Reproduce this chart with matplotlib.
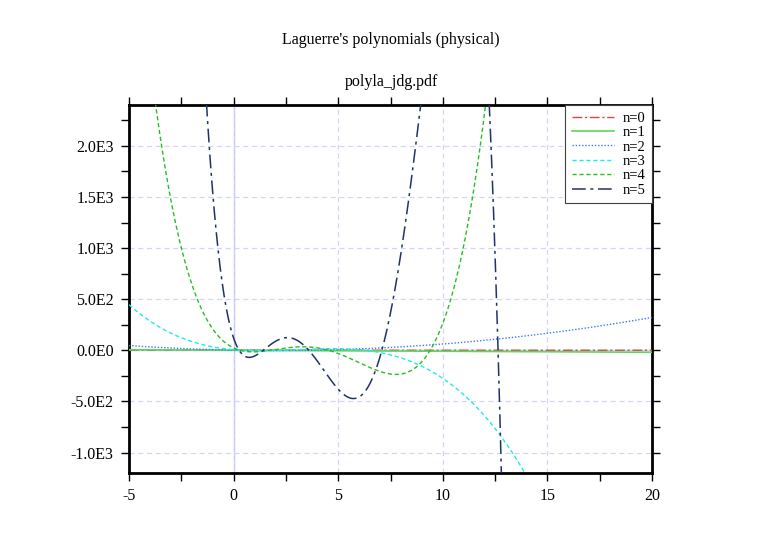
import numpy as np
import matplotlib
matplotlib.use("Agg")
import matplotlib.pyplot as plt
from matplotlib.ticker import FixedLocator, MultipleLocator, FixedFormatter

# ---- data: physicists' Laguerre polynomials n! * L_n(x), coefficients (highest power first)
series_labels = ["n=0", "n=1", "n=2", "n=3", "n=4", "n=5"]
coef_n0 = [1]
coef_n1 = [-1, 1]
coef_n2 = [1, -4, 2]
coef_n3 = [-1, 9, -18, 6]
coef_n4 = [1, -16, 72, -96, 24]
coef_n5 = [-1, 25, -200, 600, -600, 120]
x_range = [-5, 20]
y_range = [-1200, 2400]
x_ticks = [-5, 0, 5, 10, 15, 20]
x_tick_labels = ["-5", "0", "5", "10", "15", "20"]
y_ticks = [-1000, -500, 0, 500, 1000, 1500, 2000]
y_tick_labels = ["-1.0E3", "-5.0E2", "0.0E0", "5.0E2", "1.0E3", "1.5E3", "2.0E3"]
title = "Laguerre's polynomials (physical)"
subtitle = "polyla_jdg.pdf"

coefs = [coef_n0, coef_n1, coef_n2, coef_n3, coef_n4, coef_n5]
colors = ["#d84848", "#5cd85c", "#3c7cf0", "#20eaea", "#22c022", "#1e3468"]
styles = [(0, (7, 2, 1.5, 2)), "-", (0, (1, 1.3)), (0, (3, 2)), (0, (3, 2)), (0, (9, 3, 2, 3))]
widths = [1.0, 1.2, 1.0, 1.0, 1.0, 1.1]

plt.rcParams["font.family"] = ["Liberation Serif", "DejaVu Serif"]

fig = plt.figure(figsize=(7.82, 5.53), dpi=100)
ax = fig.add_axes([129 / 782, 1 - 473 / 553, (652 - 129) / 782, (473 - 105) / 553])

xs = np.linspace(x_range[0], x_range[1], 3001)
for c, lab, col, ls, lw in zip(coefs, series_labels, colors, styles, widths):
    ax.plot(xs, np.polyval(c, xs), color=col, linestyle=ls, linewidth=lw, label=lab, zorder=3)

ax.axvline(0, color="#c4c4ff", linewidth=1.0, zorder=1)
ax.axhline(0, color="#c4c4ff", linewidth=1.0, zorder=1)

ax.set_xlim(*x_range)
ax.set_ylim(*y_range)
ax.xaxis.set_major_locator(FixedLocator(x_ticks))
ax.xaxis.set_major_formatter(FixedFormatter(x_tick_labels))
ax.xaxis.set_minor_locator(MultipleLocator(2.5))
ax.yaxis.set_major_locator(FixedLocator(y_ticks))
ax.yaxis.set_major_formatter(FixedFormatter(y_tick_labels))
ax.yaxis.set_minor_locator(MultipleLocator(250))

ax.grid(True, which="major", color="#d4d4fa", linestyle=(0, (4, 3)), linewidth=0.9, zorder=0)
ax.tick_params(which="both", direction="out", length=6, width=1, top=True, right=True,
               labelsize=11.5, pad=5)
for s in ax.spines.values():
    s.set_linewidth(2)

leg = ax.legend(loc="upper right", borderaxespad=0, fancybox=False, framealpha=1,
                edgecolor="#404040", fontsize=10.5, handlelength=2.9, labelspacing=0.08,
                borderpad=0.45, handletextpad=0.6)
leg.get_frame().set_linewidth(0.8)

fig.text(0.5, 1 - 40 / 553, title, ha="center", va="center", fontsize=11.5)
fig.text(0.5, 1 - 82 / 553, subtitle, ha="center", va="center", fontsize=11.5)

fig.savefig("out.png", dpi=100)
